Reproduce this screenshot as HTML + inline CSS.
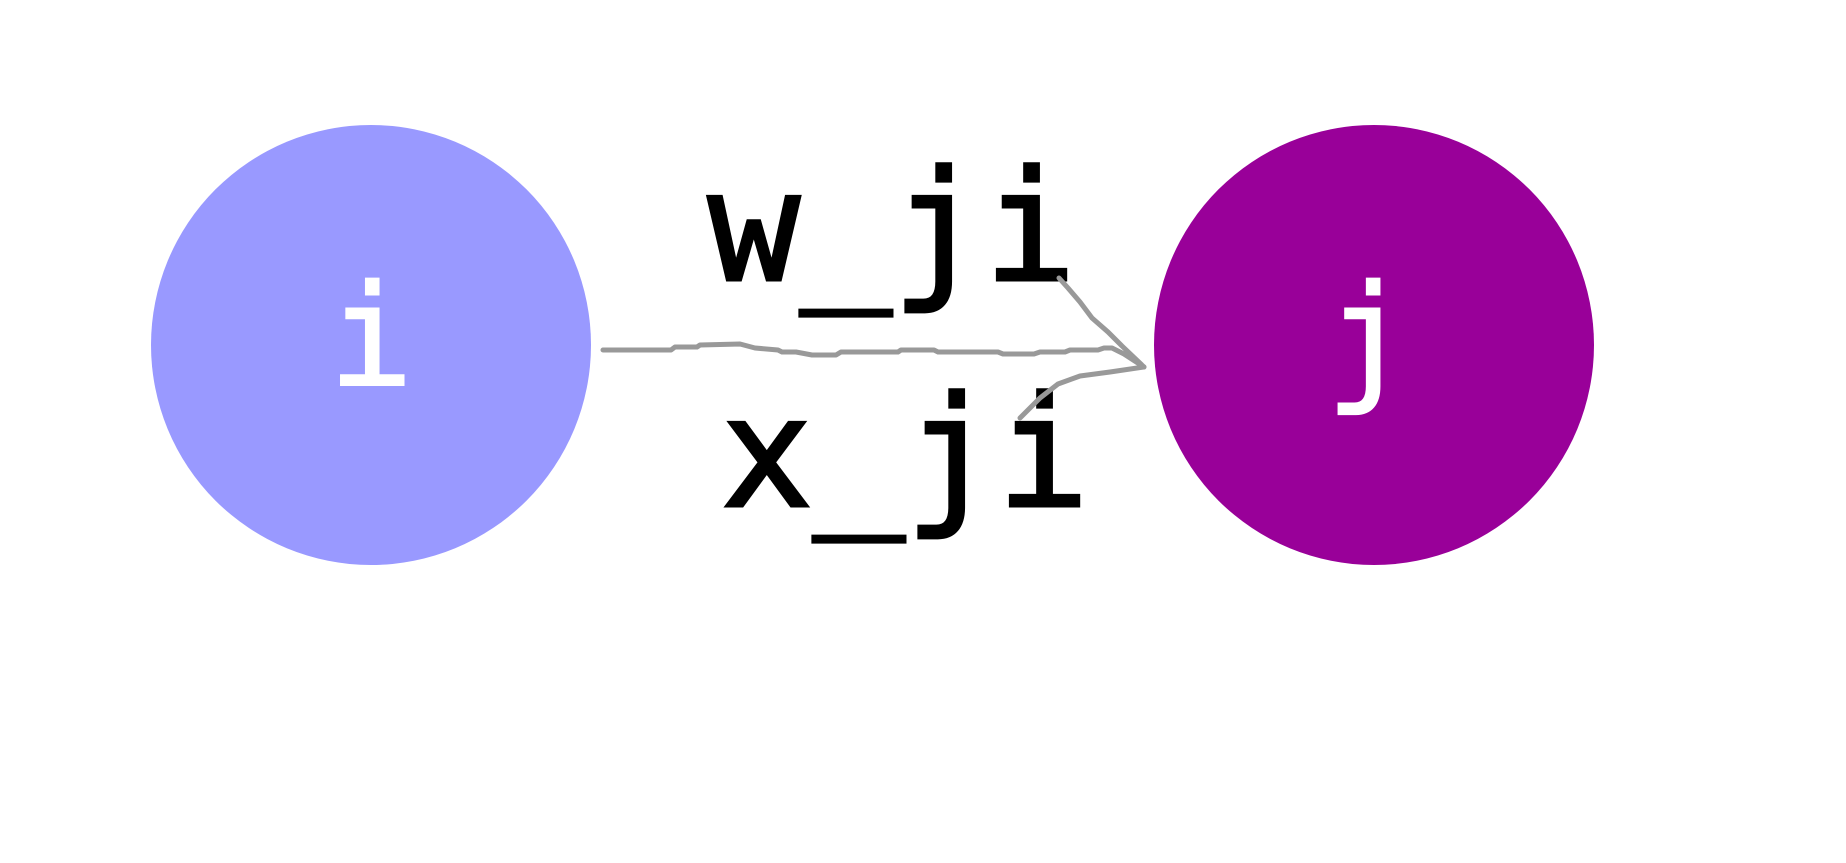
<!DOCTYPE html>
<html><head><meta charset="utf-8"><style>
html,body{margin:0;padding:0;background:#fff;}
svg{display:block}
text{font-family:"DejaVu Sans Mono","Liberation Mono",monospace;}
</style></head><body>
<svg width="1846" height="863" viewBox="0 0 1846 863" xmlns="http://www.w3.org/2000/svg">
<rect width="1846" height="863" fill="#fff"/>
<circle cx="371" cy="345" r="220" fill="#9999ff"/>
<circle cx="1374" cy="345" r="220" fill="#990099"/>
<text x="371" y="385" font-size="140" fill="#fff" stroke="#fff" stroke-width="2" text-anchor="middle">i</text>
<text x="1368" y="385" font-size="140" fill="#fff" stroke="#fff" stroke-width="2" text-anchor="middle">j</text>
<text x="892" y="280" font-size="153" fill="#000" stroke="#000" stroke-width="3" text-anchor="middle">w_ji</text>
<text x="905" y="506" font-size="153" fill="#000" stroke="#000" stroke-width="3" text-anchor="middle">x_ji</text>
<g stroke="#999" stroke-width="5" fill="none" stroke-linecap="round" stroke-linejoin="round">
<path d="M603 350 L671 350 L675 347 L697 347 L700 345 L740 344 L755 348 L778 350 L782 352 L796 352 L812 355 L836 355 L841 352 L898 352 L901 350 L934 350 L938 352 L998 352 L1003 354 L1034 354 L1040 352 L1065 352 L1070 350 L1098 350 L1104 348 L1112 348 L1124 354 L1144 367 L1110 372 L1080 376 L1058 384 L1040 398 L1020 418"/>
<path d="M1059 278 L1068 288 L1080 302 L1092 318 L1108 332 L1122 346 L1144 367"/>
</g>
</svg>
</body></html>
